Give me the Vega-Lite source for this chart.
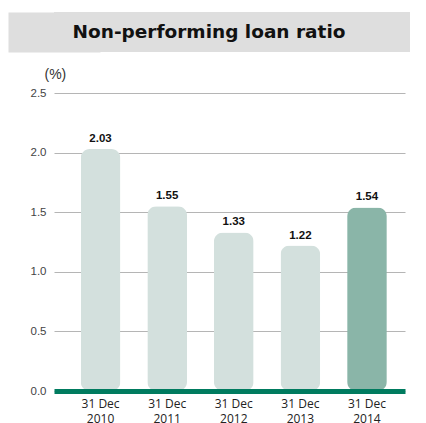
{
  "$schema": "https://vega.github.io/schema/vega-lite/v6.json",
  "background": "white",
  "padding": {"left": 8, "top": 12, "right": 0, "bottom": 0},
  "spacing": 15,
  "vconcat": [
    {
      "width": 356,
      "height": 40,
      "view": {"fill": "#dedede", "stroke": null},
      "data": {"values": [{"title": "Non-performing loan ratio"}]},
      "mark": {"type": "text", "font": "DejaVu Sans", "fontWeight": "bold", "fontSize": 18.5, "color": "#111111", "baseline": "middle", "align": "center", "dx": -23},
      "encoding": {
        "text": {"field": "title"},
        "y": {
          "field": "title", "type": "nominal",
          "axis": {"title": null, "labels": false, "ticks": false, "grid": false, "domainColor": "#dedede", "domainWidth": 92, "domainCap": "butt", "minExtent": 46, "maxExtent": 46}
        }
      }
    },
    {
      "width": 351,
      "height": 298,
      "view": {"stroke": null},
      "data": {"values": [
        {"year": "2010", "ratio": 2.03},
        {"year": "2011", "ratio": 1.55},
        {"year": "2012", "ratio": 1.33},
        {"year": "2013", "ratio": 1.22},
        {"year": "2014", "ratio": 1.54}
      ]},
      "encoding": {
        "x": {
          "field": "year", "type": "nominal", "sort": null,
          "scale": {"paddingInner": 0.404, "paddingOuter": 0.337, "align": 0.595},
          "axis": {
            "title": null, "labelAngle": 0, "ticks": false,
            "domainColor": "#007b5f", "domainWidth": 5, "domainCap": "butt",
            "labelExpr": "['31 Dec', datum.label]",
            "labelFont": "Open Sans", "labelFontSize": 12, "labelColor": "#222222",
            "labelLineHeight": 15, "labelPadding": 7, "zindex": 1
          }
        },
        "y": {
          "field": "ratio", "type": "quantitative",
          "scale": {"domain": [0, 2.5]},
          "axis": {
            "values": [0, 0.5, 1, 1.5, 2, 2.5], "format": ".1f",
            "domain": false, "ticks": false, "labelPadding": 8,
            "labelFont": "Liberation Sans", "labelFontSize": 11.5, "labelColor": "#444444",
            "gridColor": "#b5b5b5", "gridWidth": 1.2,
            "minExtent": 46, "maxExtent": 46,
            "title": "(%)", "titleAngle": 0, "titleAlign": "left", "titleBaseline": "alphabetic",
            "titleX": -10, "titleY": -15, "titleFont": "Liberation Sans", "titleFontWeight": "normal",
            "titleFontSize": 14, "titleColor": "#333333"
          }
        }
      },
      "layer": [
        {
          "mark": {"type": "bar", "cornerRadius": 9},
          "encoding": {
            "color": {
              "field": "year", "type": "nominal", "legend": null,
              "scale": {"domain": ["2010", "2011", "2012", "2013", "2014"], "range": ["#d3e0dd", "#d3e0dd", "#d3e0dd", "#d3e0dd", "#8ab5a8"]}
            }
          }
        },
        {
          "mark": {"type": "text", "baseline": "bottom", "dy": -5, "font": "Liberation Sans", "fontWeight": "bold", "fontSize": 11.5, "color": "#111111"},
          "encoding": {"text": {"field": "ratio", "type": "quantitative", "format": ".2f"}}
        }
      ]
    }
  ]
}
